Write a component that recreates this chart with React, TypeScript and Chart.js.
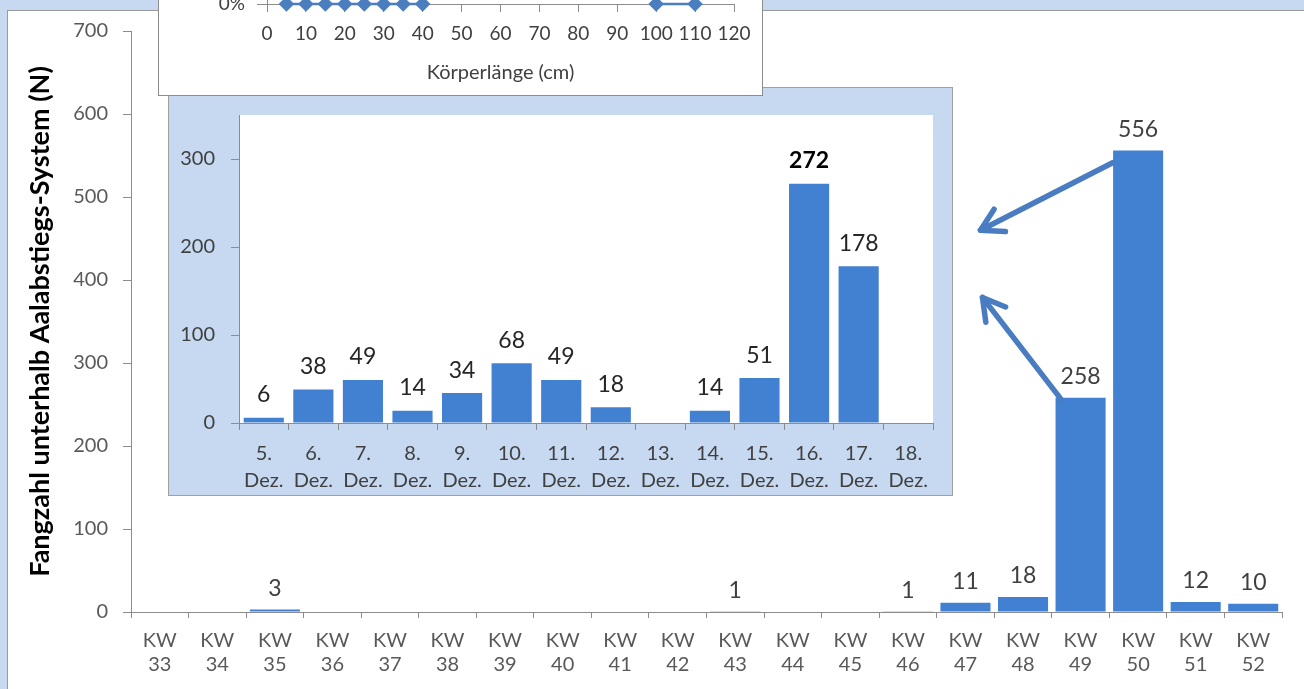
import React, { useEffect, useRef } from "react";
import { Chart, registerables } from "chart.js";

Chart.register(...registerables);

const FONT = "Lato, 'Open Sans', 'DejaVu Sans', sans-serif";

// ---- main chart data (calendar weeks) ----
const weekNumbers = ["33", "34", "35", "36", "37", "38", "39", "40", "41", "42", "43", "44", "45", "46", "47", "48", "49", "50", "51", "52"];
const weeklyCatch = [0, 0, 3, 0, 0, 0, 0, 0, 0, 0, 1, 0, 0, 1, 11, 18, 258, 556, 12, 10];
const weeklyAxisMax = 700;
const weeklyAxisStep = 100;
const weeklyAxisTitle = "Fangzahl unterhalb Aalabstiegs-System (N)";

// ---- inset chart data (days in December) ----
const dayNumbers = ["5.", "6.", "7.", "8.", "9.", "10.", "11.", "12.", "13.", "14.", "15.", "16.", "17.", "18."];
const dailyCatch: (number | null)[] = [6, 38, 49, 14, 34, 68, 49, 18, 0, 14, 51, 272, 178, null];
const dailyAxisMax = 350;
const dailyAxisStep = 100;
const monthLabel = "Dez.";

// ---- top (cut-off) length chart data ----
const lengthClassesSmall = [5, 10, 15, 20, 25, 30, 35, 40];
const lengthShareSmall = [0, 0, 0, 0, 0, 0, 0, 0];
const lengthClassesLarge = [100, 110];
const lengthShareLarge = [0, 0];
const lengthAxisMax = 120;
const lengthAxisStep = 10;
const lengthAxisTitle = "Körperlänge (cm)";

const BAR = "#4281d2";
const AXIS = "#8c8c8c";
const PAGE_BLUE = "#c6d9f1";

function valueLabels(size: number, offset: number, color: string, boldMax: boolean) {
  return {
    id: "valueLabels",
    afterDatasetsDraw(chart: any) {
      const data = chart.data.datasets[0].data as (number | null)[];
      const meta = chart.getDatasetMeta(0);
      const max = Math.max(...(data.filter((v) => v != null) as number[]));
      const ctx = chart.ctx as CanvasRenderingContext2D;
      ctx.save();
      ctx.textAlign = "center";
      ctx.textBaseline = "middle";
      meta.data.forEach((el: any, i: number) => {
        const v = data[i];
        if (!v) return;
        const bold = boldMax && v === max;
        ctx.font = `${bold ? "bold " : ""}${size}px ${FONT}`;
        ctx.fillStyle = bold ? "#000000" : color;
        ctx.fillText(String(v), el.x, el.y - offset);
      });
      ctx.restore();
    },
  };
}

const whitePlotArea = {
  id: "whitePlotArea",
  beforeDraw(chart: any) {
    const { ctx, chartArea } = chart;
    ctx.save();
    ctx.fillStyle = "#ffffff";
    ctx.fillRect(chartArea.left, chartArea.top, chartArea.right - chartArea.left, chartArea.bottom - chartArea.top);
    ctx.restore();
  },
};

const arrows = {
  id: "arrows",
  afterDatasetsDraw(chart: any) {
    const ctx = chart.ctx as CanvasRenderingContext2D;
    const meta = chart.getDatasetMeta(0);
    const xs = chart.scales.x;
    const ys = chart.scales.y;
    const b50 = meta.data[17];
    const b49 = meta.data[16];
    const list = [
      { from: [b50.x - b50.width / 2, b50.y + 12], to: [xs.getPixelForValue(14) + 15, ys.getPixelForValue(460)] },
      { from: [b49.x - b49.width / 2 + 6, b49.y + 2], to: [xs.getPixelForValue(14) + 17, ys.getPixelForValue(379)] },
    ];
    ctx.save();
    ctx.strokeStyle = "#4a7cc2";
    ctx.lineWidth = 5.5;
    ctx.lineCap = "round";
    ctx.lineJoin = "round";
    list.forEach(({ from, to }) => {
      ctx.beginPath();
      ctx.moveTo(from[0], from[1]);
      ctx.lineTo(to[0], to[1]);
      ctx.stroke();
      const ang = Math.atan2(from[1] - to[1], from[0] - to[0]);
      const len = 25;
      const spread = (30 * Math.PI) / 180;
      ctx.beginPath();
      ctx.moveTo(to[0] + len * Math.cos(ang - spread), to[1] + len * Math.sin(ang - spread));
      ctx.lineTo(to[0], to[1]);
      ctx.lineTo(to[0] + len * Math.cos(ang + spread), to[1] + len * Math.sin(ang + spread));
      ctx.stroke();
    });
    ctx.restore();
  },
};

export default function App() {
  const mainRef = useRef<HTMLCanvasElement>(null);
  const insetRef = useRef<HTMLCanvasElement>(null);
  const topRef = useRef<HTMLCanvasElement>(null);

  useEffect(() => {
    const charts: Chart[] = [];

    charts.push(
      new Chart(mainRef.current!, {
        type: "bar",
        data: {
          labels: weekNumbers.map((n) => ["KW", n]),
          datasets: [
            {
              data: weeklyCatch,
              backgroundColor: BAR,
              borderWidth: 0,
              categoryPercentage: 1,
              barPercentage: 0.87,
            },
          ],
        },
        options: {
          animation: false,
          responsive: false,
          layout: { padding: { top: 31, right: 22, bottom: 0, left: 0 } },
          plugins: { legend: { display: false }, tooltip: { enabled: false } },
          scales: {
            x: {
              grid: { offset: true, drawOnChartArea: false, tickLength: 6, color: AXIS },
              border: { color: AXIS },
              ticks: {
                font: { family: FONT, size: 20, lineHeight: 1.2 },
                color: "#595959",
                padding: 11,
                maxRotation: 0,
                autoSkip: false,
              },
              afterFit: (s: any) => {
                s.height = 77;
              },
            },
            y: {
              min: 0,
              max: weeklyAxisMax,
              ticks: { stepSize: weeklyAxisStep, font: { family: FONT, size: 20 }, color: "#595959", padding: 15 },
              grid: { drawOnChartArea: false, tickLength: 8, color: AXIS },
              border: { color: AXIS },
              title: {
                display: true,
                text: weeklyAxisTitle,
                font: { family: FONT, size: 27, weight: "bold" },
                color: "#000000",
                padding: { top: 24, bottom: 0 },
              },
              afterFit: (s: any) => {
                s.width = 131;
              },
            },
          },
        },
        plugins: [valueLabels(23, 21, "#404040", false), arrows],
      } as any)
    );

    charts.push(
      new Chart(insetRef.current!, {
        type: "bar",
        data: {
          labels: dayNumbers.map((d) => [d, monthLabel]),
          datasets: [
            {
              data: dailyCatch,
              backgroundColor: BAR,
              borderWidth: 0,
              categoryPercentage: 1,
              barPercentage: 0.81,
            },
          ],
        },
        options: {
          animation: false,
          responsive: false,
          layout: { padding: { top: 28, right: 20, bottom: 0, left: 0 } },
          plugins: { legend: { display: false }, tooltip: { enabled: false } },
          scales: {
            x: {
              grid: { offset: true, drawOnChartArea: false, tickLength: 7, color: AXIS },
              border: { color: AXIS },
              ticks: {
                font: { family: FONT, size: 20, lineHeight: 1.35 },
                color: "#404040",
                padding: 10,
                maxRotation: 0,
                autoSkip: false,
              },
              afterFit: (s: any) => {
                s.height = 73;
              },
            },
            y: {
              min: 0,
              max: dailyAxisMax,
              ticks: { stepSize: dailyAxisStep, font: { family: FONT, size: 20 }, color: "#404040", padding: 16 },
              afterBuildTicks: (s: any) => {
                s.ticks = s.ticks.filter((t: any) => t.value % dailyAxisStep === 0);
              },
              grid: { drawOnChartArea: false, tickLength: 8, color: AXIS },
              border: { color: AXIS },
              afterFit: (s: any) => {
                s.width = 71;
              },
            },
          },
        },
        plugins: [whitePlotArea, valueLabels(23, 23, "#262626", true)],
      } as any)
    );

    const toPoints = (xs: number[], ys: number[]) => xs.map((x, i) => ({ x, y: ys[i] }));
    const lineStyle = {
      borderColor: "#4a7ebf",
      backgroundColor: "#4a7ebf",
      borderWidth: 2.5,
      pointStyle: "rectRot",
      pointRadius: 6,
      showLine: true,
    };

    charts.push(
      new Chart(topRef.current!, {
        type: "scatter",
        data: {
          datasets: [
            { data: toPoints(lengthClassesSmall, lengthShareSmall), ...lineStyle },
            { data: toPoints(lengthClassesLarge, lengthShareLarge), ...lineStyle },
          ],
        },
        options: {
          animation: false,
          responsive: false,
          clip: false,
          layout: { padding: { top: 10, right: 29, bottom: 0, left: 0 } },
          plugins: { legend: { display: false }, tooltip: { enabled: false } },
          scales: {
            x: {
              type: "linear",
              min: 0,
              max: lengthAxisMax,
              ticks: { stepSize: lengthAxisStep, font: { family: FONT, size: 19 }, color: "#404040", padding: 10, maxRotation: 0 },
              grid: { drawOnChartArea: false, tickLength: 8, color: AXIS },
              border: { color: AXIS },
              title: {
                display: true,
                text: lengthAxisTitle,
                font: { family: FONT, size: 20 },
                color: "#404040",
                padding: { top: 0, bottom: 11 },
              },
              afterFit: (s: any) => {
                s.height = 92;
              },
            },
            y: {
              min: 0,
              max: 1,
              ticks: {
                stepSize: 0.1,
                font: { family: FONT, size: 19 },
                color: "#404040",
                padding: 12,
                callback: (v: any) => `${Math.round(Number(v) * 100)}%`,
              },
              grid: { drawOnChartArea: false, tickLength: 10, color: AXIS },
              border: { color: AXIS },
              afterFit: (s: any) => {
                s.width = 109;
              },
            },
          },
        },
      } as any)
    );

    return () => charts.forEach((c) => c.destroy());
  }, []);

  const abs = (l: number, t: number, w: number, h: number): React.CSSProperties => ({
    position: "absolute",
    left: l,
    top: t,
    width: w,
    height: h,
  });

  return (
    <div style={{ position: "fixed", left: 0, top: 0, width: 1304, height: 689, overflow: "hidden", background: PAGE_BLUE }}>
      <div style={{ ...abs(7, 10, 1320, 700), background: "#ffffff", border: "1px solid #9a9a9a", boxSizing: "border-box" }} />
      <canvas ref={mainRef} width={1304} height={689} style={abs(0, 0, 1304, 689)} />
      <div style={{ ...abs(168, 87, 785, 409), background: PAGE_BLUE, border: "1px solid #a0a0a0", boxSizing: "border-box" }} />
      <canvas ref={insetRef} width={785} height={409} style={abs(168, 87, 785, 409)} />
      <div style={{ ...abs(158, -200, 605, 296), background: "#ffffff", border: "1px solid #8c8c8c", boxSizing: "border-box" }} />
      <canvas ref={topRef} width={605} height={296} style={abs(158, -200, 605, 296)} />
    </div>
  );
}
